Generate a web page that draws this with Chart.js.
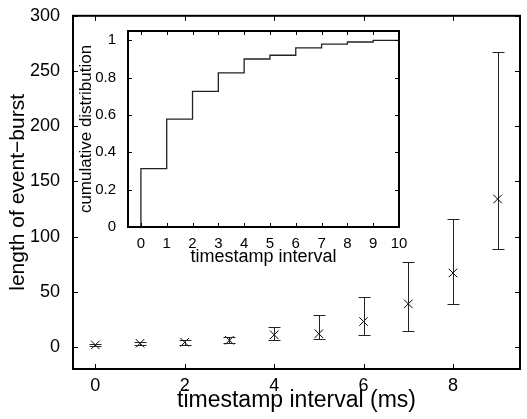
<!DOCTYPE html>
<html>
<head>
<meta charset="utf-8">
<script src="https://cdn.jsdelivr.net/npm/chart.js@4.4.0/dist/chart.umd.min.js"></script>
<style>
  html, body { margin: 0; padding: 0; background: #fff; }
  #wrap { position: relative; width: 527px; height: 419px; }
  #mainChart { position: absolute; left: 0; top: 0; }
  #insetChart { position: absolute; left: 70px; top: 18px; }
</style>
</head>
<body>
<div id="wrap">
  <canvas id="mainChart" width="527" height="419"></canvas>
  <canvas id="insetChart" width="340" height="252"></canvas>
</div>
<script>
// main plot: burst length vs timestamp interval
let xVals = [0, 1, 2, 3, 4, 5, 6, 7, 8, 9];
let burstMean = [1.8, 3.3, 4.2, 6, 11, 12, 23, 39, 67, 134];
let burstLow = [0.5, 2, 2, 3.6, 6.5, 7, 11, 14, 38.5, 89];
let burstHigh = [3, 4.5, 6.5, 9.2, 18, 29, 45, 77, 116, 267];
let mainXTicks = [0, 2, 4, 6, 8];
let mainYTicks = [0, 50, 100, 150, 200, 250, 300];

// inset: cumulative distribution
let cdfX = [0, 1, 2, 3, 4, 5, 6, 7, 8, 9, 10];
let cdfY = [0.313, 0.578, 0.727, 0.826, 0.90, 0.92, 0.96, 0.98, 0.991, 1.0, 1.0];
let insetXTicks = [0, 1, 2, 3, 4, 5, 6, 7, 8, 9, 10];
let insetYTicks = [0, 0.2, 0.4, 0.6, 0.8, 1];

let font = 'Liberation Sans, Arial, Helvetica, sans-serif';

// matlab style box with inward ticks on all sides
function boxTicks(len, width) {
  return {
    id: 'boxTicks',
    afterDraw(chart) {
      let ctx = chart.ctx, a = chart.chartArea;
      let x = chart.scales.x, y = chart.scales.y;
      ctx.save();
      ctx.strokeStyle = '#000';
      ctx.lineWidth = 1;
      ctx.beginPath();
      x.ticks.forEach(t => {
        let px = Math.round(x.getPixelForValue(t.value)) + 0.5;
        ctx.moveTo(px, a.bottom); ctx.lineTo(px, a.bottom - len);
        ctx.moveTo(px, a.top); ctx.lineTo(px, a.top + len);
      });
      y.ticks.forEach(t => {
        let py = Math.round(y.getPixelForValue(t.value)) + 0.5;
        ctx.moveTo(a.left, py); ctx.lineTo(a.left + len, py);
        ctx.moveTo(a.right, py); ctx.lineTo(a.right - len, py);
      });
      ctx.stroke();
      ctx.lineWidth = width;
      ctx.strokeRect(a.left, a.top, a.right - a.left, a.bottom - a.top);
      ctx.restore();
    }
  };
}

let errorBars = {
  id: 'errorBars',
  afterDatasetsDraw(chart) {
    let ctx = chart.ctx;
    let x = chart.scales.x, y = chart.scales.y;
    ctx.save();
    ctx.strokeStyle = '#222';
    ctx.lineWidth = 1;
    ctx.beginPath();
    xVals.forEach((v, i) => {
      let px = Math.round(x.getPixelForValue(v)) + 0.5;
      let lo = Math.round(y.getPixelForValue(burstLow[i])) + 0.5;
      let hi = Math.round(y.getPixelForValue(burstHigh[i])) + 0.5;
      ctx.moveTo(px, lo); ctx.lineTo(px, hi);
      ctx.moveTo(px - 6, lo); ctx.lineTo(px + 6, lo);
      ctx.moveTo(px - 6, hi); ctx.lineTo(px + 6, hi);
    });
    ctx.stroke();
    ctx.restore();
  }
};

new Chart(document.getElementById('mainChart').getContext('2d'), {
  type: 'scatter',
  data: {
    datasets: [{
      data: xVals.map((v, i) => ({ x: v, y: burstMean[i] })),
      pointStyle: 'crossRot',
      pointRadius: 6,
      borderColor: '#000',
      borderWidth: 1
    }]
  },
  options: {
    responsive: false,
    animation: false,
    layout: { padding: { top: 13, right: 4, left: 0, bottom: 0 } },
    plugins: { legend: { display: false }, tooltip: { enabled: false } },
    scales: {
      x: {
        type: 'linear', min: -0.5, max: 9.5,
        afterBuildTicks: s => { s.ticks = mainXTicks.map(v => ({ value: v })); },
        afterFit: s => { s.height = 50; },
        grid: { display: false },
        border: { display: false },
        ticks: { color: '#000', font: { family: font, size: 18 }, padding: -2, maxRotation: 0 },
        title: { display: true, text: 'timestamp interval (ms)', color: '#000',
                 font: { family: font, size: 23 }, padding: { top: 0, bottom: 5 } }
      },
      y: {
        min: -20, max: 300,
        afterBuildTicks: s => { s.ticks = mainYTicks.map(v => ({ value: v })); },
        afterFit: s => { s.width = 73; },
        grid: { display: false },
        border: { display: false },
        ticks: { color: '#000', font: { family: font, size: 18 }, padding: 5 },
        title: { display: true, text: 'length of event\u2212burst', color: '#000',
                 font: { family: font, size: 21 }, padding: { top: 6, bottom: 0 } }
      }
    }
  },
  plugins: [errorBars, boxTicks(5, 2)]
});

let cdfPoints = [{ x: cdfX[0], y: 0 }].concat(cdfX.map((v, i) => ({ x: v, y: cdfY[i] })));

new Chart(document.getElementById('insetChart').getContext('2d'), {
  type: 'line',
  data: {
    datasets: [{
      data: cdfPoints,
      stepped: 'before',
      borderColor: '#222',
      borderWidth: 1.3,
      pointRadius: 0,
      fill: false
    }]
  },
  options: {
    responsive: false,
    animation: false,
    layout: { padding: { top: 6, right: 11, left: 0, bottom: 0 } },
    plugins: { legend: { display: false }, tooltip: { enabled: false } },
    scales: {
      x: {
        type: 'linear', min: -0.5, max: 10,
        afterBuildTicks: s => { s.ticks = insetXTicks.map(v => ({ value: v })); },
        afterFit: s => { s.height = 43; },
        grid: { display: false },
        border: { display: false },
        ticks: { color: '#000', font: { family: font, size: 15 }, padding: 0, maxRotation: 0 },
        title: { display: true, text: 'timestamp interval', color: '#000',
                 font: { family: font, size: 18 }, padding: { top: 0, bottom: 2 } }
      },
      y: {
        min: 0, max: 1.05,
        afterBuildTicks: s => { s.ticks = insetYTicks.map(v => ({ value: v })); },
        afterFit: s => { s.width = 58; },
        grid: { display: false },
        border: { display: false },
        ticks: { color: '#000', font: { family: font, size: 15 }, padding: 4,
                 callback: v => String(v) },
        title: { display: true, text: 'cumulative distribution', color: '#000',
                 font: { family: font, size: 17 }, padding: { top: 6, bottom: 0 } }
      }
    }
  },
  plugins: [boxTicks(4, 2)]
});
</script>
</body>
</html>
